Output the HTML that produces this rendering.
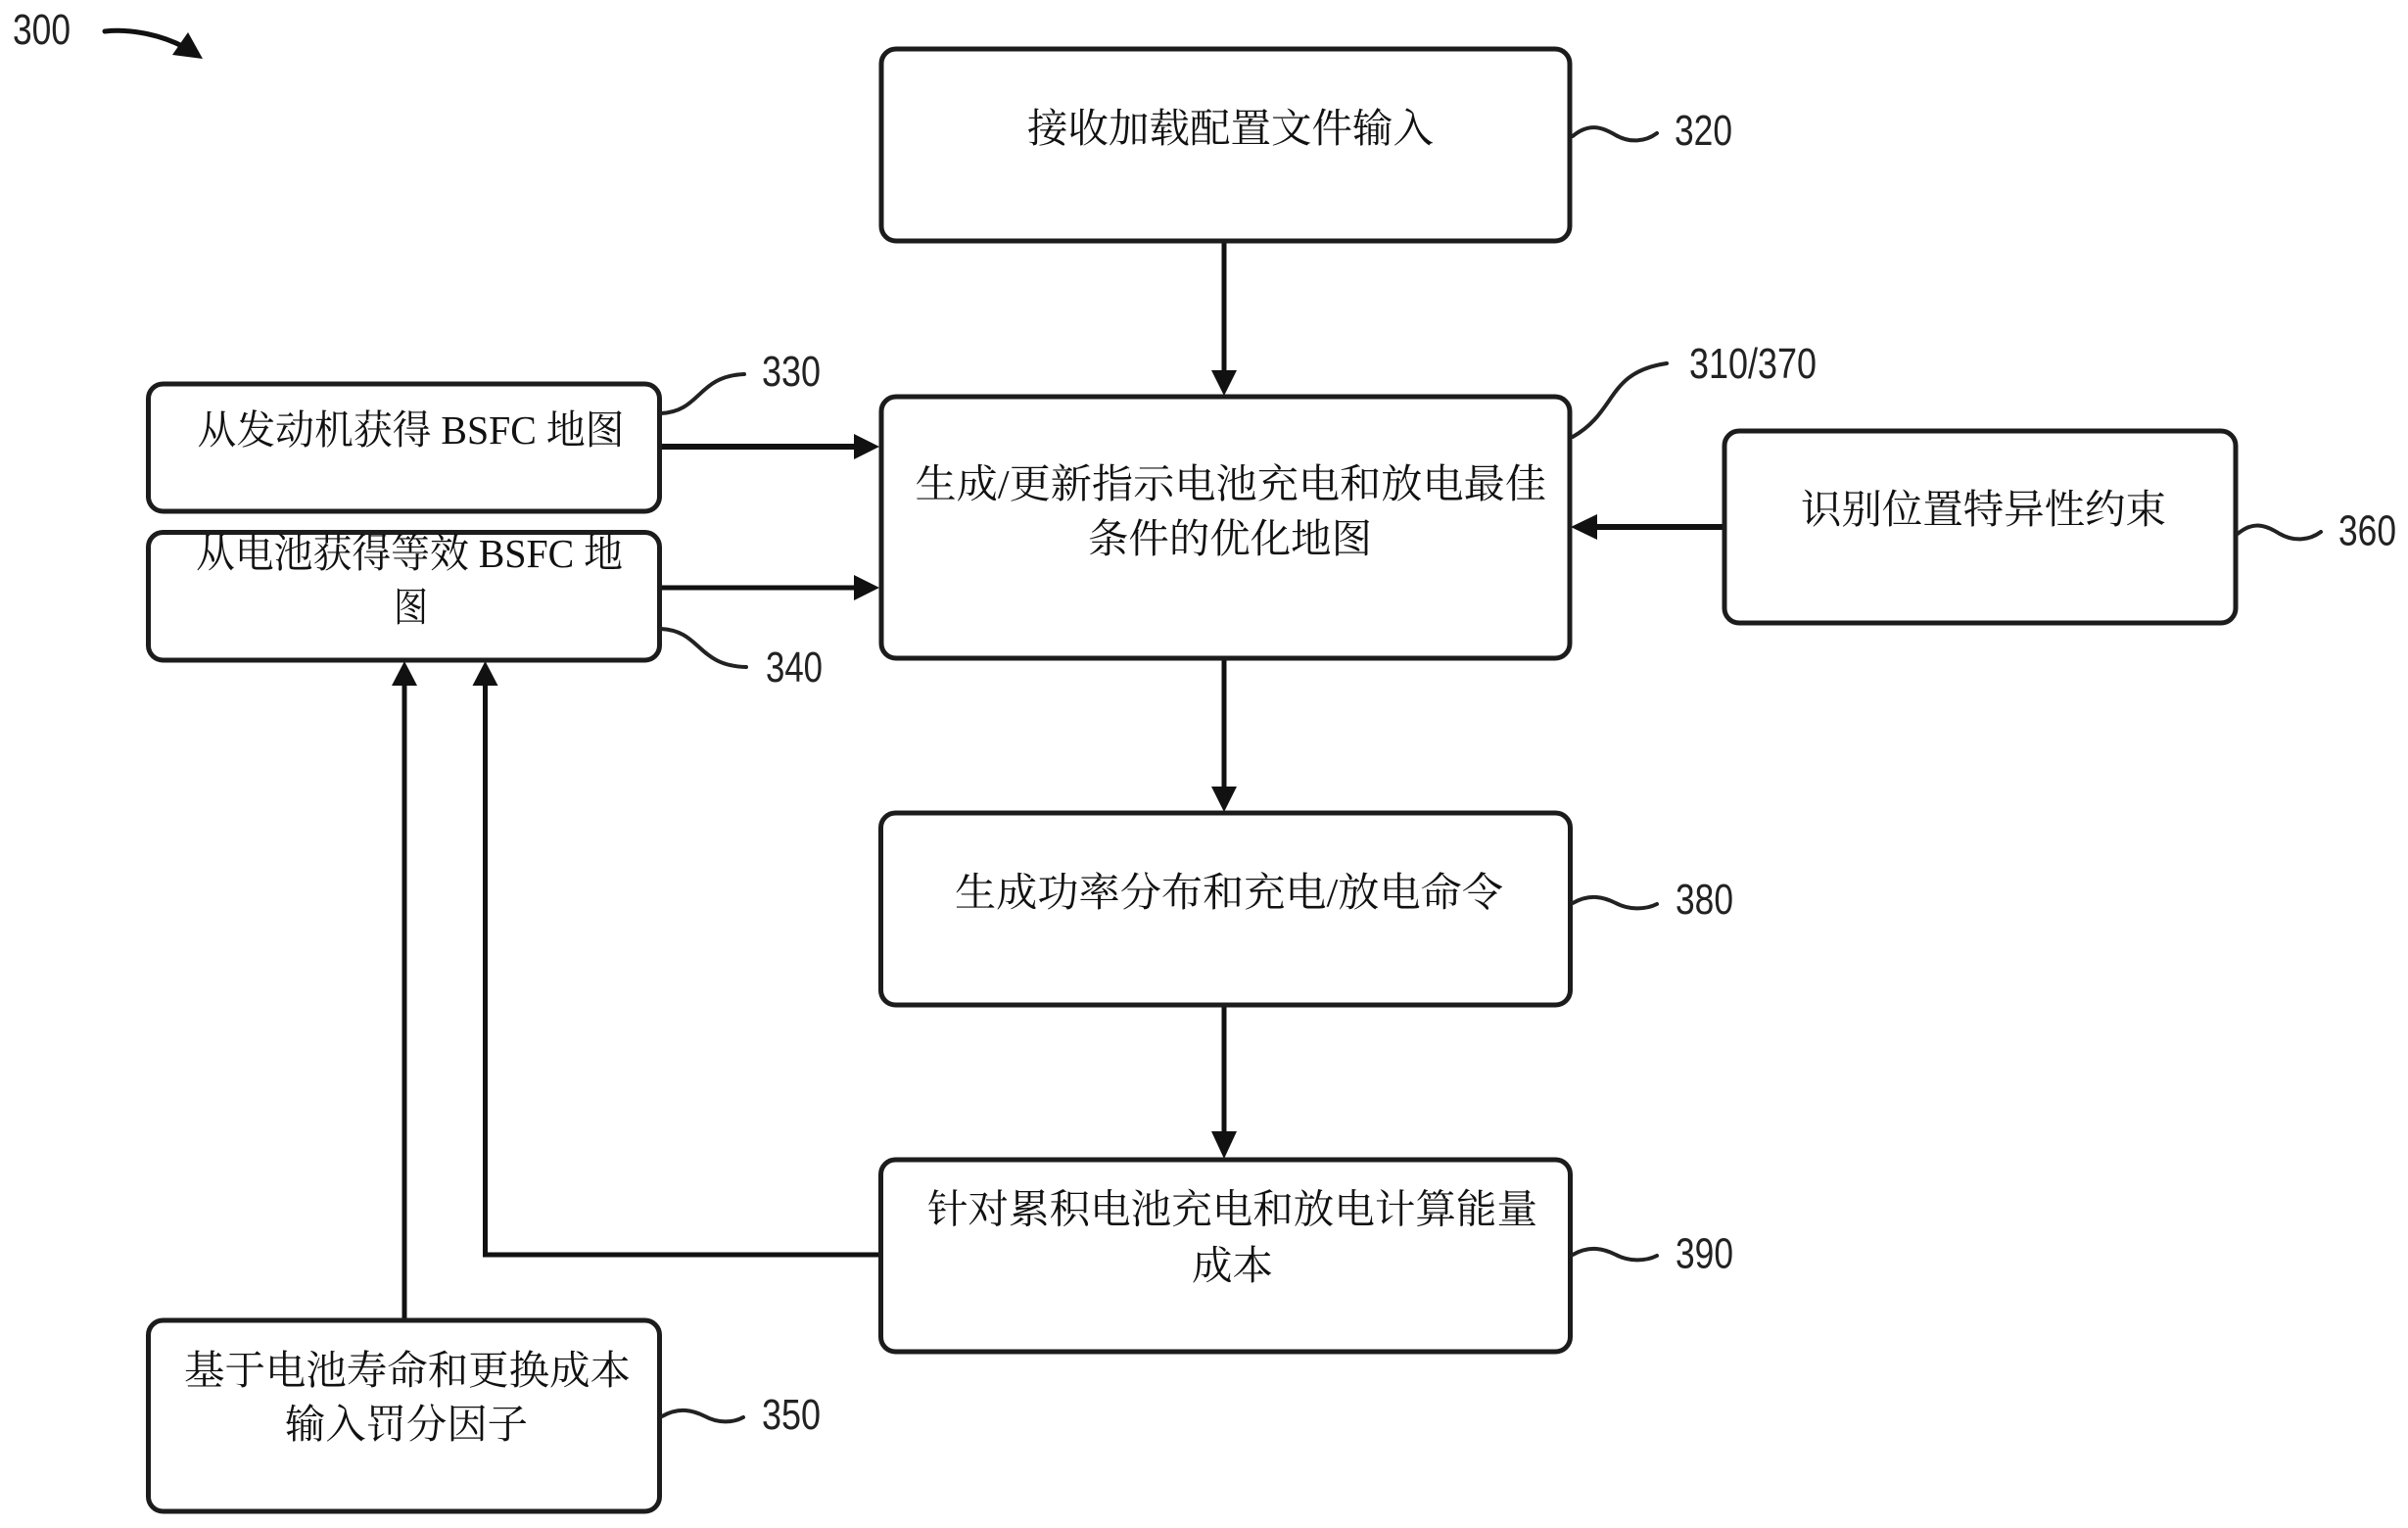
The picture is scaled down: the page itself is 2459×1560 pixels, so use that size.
<!DOCTYPE html>
<html lang="zh">
<head>
<meta charset="utf-8">
<title>300</title>
<style>
html,body{margin:0;padding:0;background:#fff;width:2459px;height:1560px;overflow:hidden}
svg{display:block}
.b{fill:#fff;stroke:#1c1c1c;stroke-width:5}
.l{fill:none;stroke:#111;stroke-linecap:butt}
.s{fill:none;stroke:#222;stroke-width:4;stroke-linecap:round}
.h{fill:#111}
.t{font-family:"Liberation Serif","Noto Serif CJK SC",serif;font-size:41px;fill:#111;dominant-baseline:central}
.n{font-family:"Liberation Sans",sans-serif;font-size:44px;fill:#222}
</style>
</head>
<body>
<svg xmlns="http://www.w3.org/2000/svg" width="2459" height="1560" viewBox="0 0 2459 1560">
<rect width="2459" height="1560" fill="#fff"/>

<!-- connectors -->
<path class="l" stroke-width="5" d="M1250 246V380"/>
<path class="h" d="M1237 378H1263L1250 404Z"/>
<path class="l" stroke-width="6" d="M673 456H875"/>
<path class="h" d="M872 443L898 456L872 469Z"/>
<path class="l" stroke-width="5" d="M673 600H875"/>
<path class="h" d="M872 587L898 600L872 613Z"/>
<path class="l" stroke-width="6" d="M1761 538H1628"/>
<path class="h" d="M1631 525V551L1604 538Z"/>
<path class="l" stroke-width="5" d="M1250 672V806"/>
<path class="h" d="M1237 803H1263L1250 829Z"/>
<path class="l" stroke-width="5" d="M1250 1025V1158"/>
<path class="h" d="M1237 1155H1263L1250 1183Z"/>
<path class="l" stroke-width="5" d="M413 1347V698"/>
<path class="h" d="M400 700H426L413 675Z"/>
<path class="l" stroke-width="5" stroke-linejoin="miter" d="M900 1281H495.500V698"/>
<path class="h" d="M482.500 700H508.500L495.500 675Z"/>

<!-- boxes -->
<rect class="b" x="151.500" y="392" width="522" height="130" rx="15"/>
<rect class="b" x="151.500" y="543.500" width="522" height="130.500" rx="15"/>
<rect class="b" x="151.500" y="1348" width="522" height="195" rx="15"/>
<rect class="b" x="900" y="50" width="703" height="196" rx="15"/>
<rect class="b" x="900" y="405" width="703" height="267" rx="15"/>
<rect class="b" x="899.500" y="830" width="704" height="196" rx="15"/>
<rect class="b" x="899.500" y="1184" width="704" height="196" rx="15"/>
<rect class="b" x="1761" y="440" width="522" height="196" rx="15"/>

<!-- box text -->
<text class="t" x="201.500" y="439" textLength="436" lengthAdjust="spacingAndGlyphs">从发动机获得 BSFC 地图</text>
<text class="t" x="200" y="565" textLength="436" lengthAdjust="spacingAndGlyphs">从电池获得等效 BSFC 地</text>
<text class="t" x="402" y="620" textLength="35" lengthAdjust="spacingAndGlyphs">图</text>
<text class="t" x="1049" y="131" textLength="415" lengthAdjust="spacingAndGlyphs">接收加载配置文件输入</text>
<text class="t" x="934.500" y="494" textLength="644.500" lengthAdjust="spacingAndGlyphs">生成/更新指示电池充电和放电最佳</text>
<text class="t" x="1111" y="550" textLength="290" lengthAdjust="spacingAndGlyphs">条件的优化地图</text>
<text class="t" x="1839" y="520" textLength="373" lengthAdjust="spacingAndGlyphs">识别位置特异性约束</text>
<text class="t" x="975" y="911" textLength="560" lengthAdjust="spacingAndGlyphs">生成功率分布和充电/放电命令</text>
<text class="t" x="947" y="1234.500" textLength="623" lengthAdjust="spacingAndGlyphs">针对累积电池充电和放电计算能量</text>
<text class="t" x="1217" y="1292" textLength="83" lengthAdjust="spacingAndGlyphs">成本</text>
<text class="t" x="188" y="1399" textLength="456" lengthAdjust="spacingAndGlyphs">基于电池寿命和更换成本</text>
<text class="t" x="291" y="1454" textLength="248" lengthAdjust="spacingAndGlyphs">输入罚分因子</text>

<!-- leaders -->
<path class="s" d="M675 422C716 420 712 384 760 382"/>
<path class="s" d="M675 642C716 644 712 680 762 681"/>
<path class="s" d="M1606 139C1624 124 1638 131 1650 138C1664 146 1680 145 1692 136"/>
<path class="s" d="M1606 446C1652 420 1640 380 1702 371"/>
<path class="s" d="M2285 545C2303 530 2316 538 2328 545C2342 553 2358 552 2370 543"/>
<path class="s" d="M676 1446C694 1436 708 1440 720 1446C733 1453 748 1453 759 1447"/>
<path class="s" d="M1606 922C1624 912 1638 916 1650 922C1663 929 1680 929 1692 923"/>
<path class="s" d="M1606 1281C1624 1271 1638 1275 1650 1281C1663 1288 1680 1288 1692 1282"/>

<!-- reference numerals -->
<text class="n" x="13" y="45" textLength="59" lengthAdjust="spacingAndGlyphs">300</text>
<text class="n" x="778" y="394" textLength="60" lengthAdjust="spacingAndGlyphs">330</text>
<text class="n" x="782" y="696" textLength="58" lengthAdjust="spacingAndGlyphs">340</text>
<text class="n" x="1710" y="148" textLength="59" lengthAdjust="spacingAndGlyphs">320</text>
<text class="n" x="1725" y="386" textLength="130" lengthAdjust="spacingAndGlyphs">310/370</text>
<text class="n" x="2388" y="556.500" textLength="59" lengthAdjust="spacingAndGlyphs">360</text>
<text class="n" x="778" y="1459" textLength="60" lengthAdjust="spacingAndGlyphs">350</text>
<text class="n" x="1711" y="933" textLength="59" lengthAdjust="spacingAndGlyphs">380</text>
<text class="n" x="1711" y="1294.500" textLength="59" lengthAdjust="spacingAndGlyphs">390</text>

<!-- figure arrow -->
<path fill="none" stroke="#111" stroke-width="5" stroke-linecap="round" d="M107 32C135 29 165 36 188 48"/>
<path class="h" d="M192 33L207 60L176 56Z"/>
</svg>
</body>
</html>
